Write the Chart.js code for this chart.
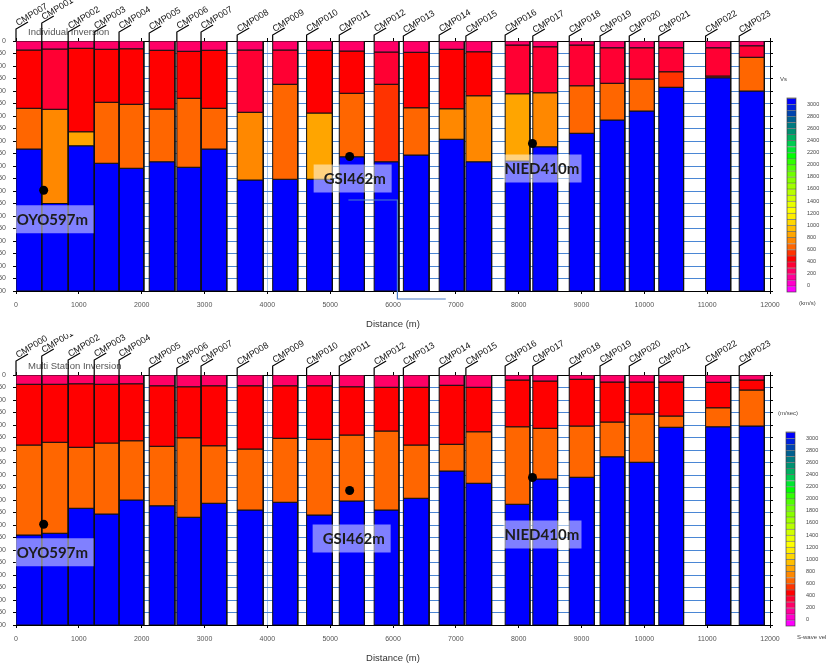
<!DOCTYPE html>
<html>
<head>
<meta charset="utf-8">
<script src="https://cdn.jsdelivr.net/npm/chart.js@4/dist/chart.umd.min.js"></script>
<style>
  body { margin: 0; background: #fff; width: 827px; height: 668px; overflow: hidden; position: relative; }
  .panel { position: absolute; left: 0; width: 827px; height: 334px; overflow: hidden; }
  .panel canvas { position: absolute; top: 0; }
</style>
</head>
<body>
<div class="panel" style="top:0">
  <canvas id="mainTop" width="857" height="334" style="left:-30px"></canvas>
  <canvas id="barTop" width="52" height="334" style="left:775px"></canvas>
</div>
<div class="panel" style="top:334px">
  <canvas id="mainBottom" width="857" height="334" style="left:-30px"></canvas>
  <canvas id="barBottom" width="52" height="334" style="left:774px"></canvas>
</div>
<script>
// station columns along the line (distance, m)
const colStart = [0, 410, 830, 1245, 1640, 2120, 2560, 2945, 3520, 4085, 4625, 5145, 5700, 6165, 6735, 7160, 7785, 8225, 8805, 9295, 9760, 10230, 10975, 11510];
const colEnd   = [410, 830, 1245, 1640, 2035, 2530, 2945, 3355, 3935, 4485, 5035, 5545, 6095, 6575, 7135, 7570, 8180, 8620, 9205, 9690, 10160, 10625, 11375, 11910];

const namesIndividual = ['CMP007', 'CMP001', 'CMP002', 'CMP003', 'CMP004', 'CMP005', 'CMP006', 'CMP007', 'CMP008', 'CMP009', 'CMP010', 'CMP011',
  'CMP012', 'CMP013', 'CMP014', 'CMP015', 'CMP016', 'CMP017', 'CMP018', 'CMP019', 'CMP020', 'CMP021', 'CMP022', 'CMP023'];
const namesMulti = ['CMP000', 'CMP001', 'CMP002', 'CMP003', 'CMP004', 'CMP005', 'CMP006', 'CMP007', 'CMP008', 'CMP009', 'CMP010', 'CMP011',
  'CMP012', 'CMP013', 'CMP014', 'CMP015', 'CMP016', 'CMP017', 'CMP018', 'CMP019', 'CMP020', 'CMP021', 'CMP022', 'CMP023'];

// layer boundaries (depth, m) and S-wave velocity of each layer (m/s)
const depthIndividual = [
  [0, 36, 269, 432, 1000], [0, 32, 273, 650, 1000], [0, 29, 363, 419, 1000], [0, 33, 245, 489, 1000],
  [0, 31, 253, 509, 1000], [0, 37, 272, 483, 1000], [0, 41, 229, 505, 1000], [0, 37, 269, 432, 1000],
  [0, 36, 285, 556, 1000], [0, 36, 173, 553, 1000], [0, 37, 288, 553, 1000], [0, 40, 209, 463, 1000],
  [0, 44, 173, 483, 1000], [0, 45, 267, 456, 1000], [0, 33, 271, 393, 1000], [0, 43, 219, 483, 1000],
  [0, 16, 211, 480, 1000], [0, 23, 207, 423, 1000], [0, 16, 179, 369, 1000], [0, 27, 169, 316, 1000],
  [0, 27, 152, 280, 1000], [0, 27, 123, 185, 1000], [0, 27, 140, 147, 1000], [0, 19, 65, 200, 1000]
];
const vsIndividual = [
  [200, 400, 600, 3000], [200, 300, 700, 3000], [200, 400, 800, 3000], [200, 400, 600, 3000],
  [200, 400, 600, 3000], [200, 400, 600, 3000], [200, 400, 600, 3000], [200, 400, 600, 3000],
  [200, 300, 700, 3000], [200, 300, 600, 3000], [200, 400, 800, 3000], [200, 400, 600, 3000],
  [200, 300, 500, 3000], [200, 400, 600, 3000], [200, 400, 700, 3000], [200, 400, 700, 3000],
  [200, 300, 800, 3000], [200, 300, 700, 3000], [200, 300, 600, 3000], [200, 300, 600, 3000],
  [200, 300, 600, 3000], [200, 300, 500, 3000], [200, 300, 500, 3000], [200, 300, 600, 3000]
];
const depthMulti = [
  [0, 37, 280, 640, 1000], [0, 37, 269, 633, 1000], [0, 35, 289, 533, 1000], [0, 37, 272, 556, 1000],
  [0, 35, 263, 500, 1000], [0, 43, 285, 523, 1000], [0, 47, 251, 569, 1000], [0, 43, 283, 513, 1000],
  [0, 43, 296, 540, 1000], [0, 43, 253, 509, 1000], [0, 43, 257, 560, 1000], [0, 47, 240, 504, 1000],
  [0, 49, 224, 540, 1000], [0, 49, 280, 493, 1000], [0, 41, 277, 384, 1000], [0, 49, 227, 433, 1000],
  [0, 20, 207, 517, 1000], [0, 24, 213, 416, 1000], [0, 17, 204, 409, 1000], [0, 28, 188, 327, 1000],
  [0, 28, 156, 349, 1000], [0, 28, 164, 209, 1000], [0, 29, 131, 207, 1000], [0, 20, 60, 204, 1000]
];
const vsMulti = depthMulti.map(() => [200, 400, 600, 3000]);

// reference boreholes
const stationNames = ['OYO', 'GSI', 'NIED'];
const stationX = [440, 5310, 8220];
const stationDepth = [597, 462, 410];

// leftover connector line in the upper section
const guideX = [5290, 6070, 6070, 6840];
const guideDepth = [636, 636, 1032, 1032];

const distTicks = [0, 1000, 2000, 3000, 4000, 5000, 6000, 7000, 8000, 9000, 10000, 11000, 12000];
const depthTicks = [0, 50, 100, 150, 200, 250, 300, 350, 400, 450, 500, 550, 600, 650, 700, 750, 800, 850, 900, 950, 1000];
const cbTicks = [0, 200, 400, 600, 800, 1000, 1200, 1400, 1600, 1800, 2000, 2200, 2400, 2600, 2800, 3000];

// colour scale, one entry per 100 m/s bin starting at -100
const cbColors = ['#ff00ff', '#ff00cc', '#ff0099', '#ff0066', '#ff0033', '#ff0000', '#ff3300', '#ff6600',
  '#ff8800', '#ffa500', '#ffbf00', '#ffd700', '#ffee00', '#ffff00', '#e8ff00', '#d0ff00',
  '#b8ff00', '#a0ff00', '#88ff00', '#70ff00', '#50ff00', '#30ff00', '#00ff00', '#00e830',
  '#00cc50', '#00b060', '#009070', '#007a80', '#006090', '#0044b0', '#0022dd', '#0000ff'];

Chart.defaults.font.family = '"Liberation Sans", Arial, sans-serif';

const vsColor = v => cbColors[Math.min(cbColors.length - 1, Math.floor((v + 100) / 100))];
const rect = (x0, x1, d0, d1) => [{x: x0, y: d0}, {x: x1, y: d0}, {x: x1, y: d1}, {x: x0, y: d1}, {x: x0, y: d0}];

const panelDecor = {
  id: 'panelDecor',
  afterDatasetsDraw(chart, args, o) {
    const {ctx, scales: {x, y}} = chart;
    ctx.save();
    stationNames.forEach((s, i) => {
      const px = x.getPixelForValue(stationX[i]);
      const py = y.getPixelForValue(stationDepth[i]);
      const [dx, dy, tx] = o.boxes[i];
      ctx.fillStyle = 'rgba(255,255,255,0.5)';
      ctx.fillRect(px + dx, py + dy, 78, 28);
      ctx.fillStyle = '#1c1c1c';
      ctx.font = '700 15px Lato, "Liberation Sans", sans-serif';
      ctx.textBaseline = 'middle';
      ctx.textAlign = 'left';
      ctx.fillText(s + stationDepth[i] + 'm', px + dx + tx, py + dy + 14.5);
    });
    ctx.restore();
  },
  afterDraw(chart, args, o) {
    const {ctx, chartArea, scales: {x}} = chart;
    ctx.save();
    ctx.fillStyle = '#555';
    ctx.font = '9.5px "Liberation Sans", Arial, sans-serif';
    ctx.textBaseline = 'middle';
    ctx.fillText(o.caption, chartArea.left + 12, chartArea.top - 9);
    ctx.strokeStyle = '#000';
    ctx.lineWidth = 1.2;
    ctx.fillStyle = '#111';
    ctx.font = '9px "Liberation Sans", Arial, sans-serif';
    ctx.textBaseline = 'alphabetic';
    o.names.forEach((n, i) => {
      const px = x.getPixelForValue(colStart[i]);
      const lift = o.lift[i];
      const top = chartArea.top;
      ctx.beginPath();
      ctx.moveTo(px, top);
      ctx.lineTo(px, top - lift);
      ctx.lineTo(px + 12, top - lift - 7);
      ctx.stroke();
      ctx.save();
      ctx.translate(px + 2, top - lift - 3);
      ctx.rotate(-31 * Math.PI / 180);
      ctx.fillText(n, 0, 0);
      ctx.restore();
    });
    ctx.restore();
  }
};

const unitLabels = {
  id: 'unitLabels',
  afterDraw(chart, args, o) {
    const {ctx, chartArea} = chart;
    ctx.save();
    ctx.strokeStyle = 'rgba(60,60,60,0.8)';
    ctx.lineWidth = 0.8;
    ctx.strokeRect(chartArea.left, chartArea.top, chartArea.right - chartArea.left, chartArea.bottom - chartArea.top);
    ctx.fillStyle = '#444';
    ctx.font = '6px "Liberation Sans", Arial, sans-serif';
    ctx.textBaseline = 'middle';
    ctx.fillText(o.upper, chartArea.left + o.upperDx, chartArea.top - 19);
    ctx.fillText(o.lower, chartArea.left + o.lowerDx, chartArea.bottom + 11);
    ctx.restore();
  }
};

function buildPanel(mainId, barId, cfg) {
  const datasets = [{
    order: 0,
    data: stationX.map((x, i) => ({x, y: stationDepth[i]})),
    showLine: false,
    pointRadius: 4.5,
    pointBackgroundColor: '#000',
    pointBorderColor: '#000',
    pointBorderWidth: 0
  }];
  if (cfg.guide) {
    datasets.push({
      order: 1,
      data: guideX.map((x, i) => ({x, y: guideDepth[i]})),
      borderColor: '#4a7cc8',
      borderWidth: 1.2,
      pointRadius: 0,
      fill: false,
      clip: false
    });
  }
  cfg.depth.forEach((b, i) => {
    cfg.vs[i].forEach((v, k) => {
      datasets.push({
        order: 2,
        data: rect(colStart[i], colEnd[i], b[k], b[k + 1]),
        backgroundColor: vsColor(v),
        borderColor: '#111',
        borderWidth: 1,
        fill: 'shape',
        pointRadius: 0
      });
    });
  });

  new Chart(document.getElementById(mainId), {
    type: 'line',
    data: {datasets},
    options: {
      animation: false,
      responsive: false,
      events: [],
      layout: {padding: {top: 37, right: 53, left: 0, bottom: 0}},
      plugins: {
        legend: {display: false},
        tooltip: {enabled: false},
        panelDecor: {caption: cfg.caption, names: cfg.names, lift: cfg.lift, boxes: cfg.boxes}
      },
      scales: {
        x: {
          type: 'linear', min: 0, max: 12000,
          afterBuildTicks: s => { s.ticks = distTicks.map(v => ({value: v})); },
          ticks: {callback: v => String(v), font: {size: 7}, color: '#555', padding: 7, maxRotation: 0, autoSkip: false},
          grid: {color: '#a9c8ee', tickColor: '#000', tickLength: 3},
          border: {color: '#000'},
          title: {display: true, text: 'Distance (m)', font: {size: 9.5}, color: '#333', padding: {top: 0, bottom: 4}},
          afterFit: s => { s.height = 43; }
        },
        x2: {
          type: 'linear', position: 'top', min: 0, max: 12000,
          afterBuildTicks: s => { s.ticks = distTicks.map(v => ({value: v})); },
          ticks: {display: false},
          grid: {drawOnChartArea: false, tickColor: '#000', tickLength: 3},
          border: {color: '#000'},
          afterFit: s => { s.height = 4; }
        },
        y: {
          type: 'linear', reverse: true, min: 0, max: 1000,
          afterBuildTicks: s => { s.ticks = depthTicks.map(v => ({value: v})); },
          ticks: {font: {size: 7}, color: '#555', padding: 7, autoSkip: false},
          grid: {color: '#4a86d4', tickColor: '#000', tickLength: 3},
          border: {color: '#000'},
          afterFit: s => { s.width = 46; }
        },
        y2: {
          type: 'linear', position: 'right', reverse: true, min: 0, max: 1000,
          afterBuildTicks: s => { s.ticks = depthTicks.map(v => ({value: v})); },
          ticks: {display: false},
          grid: {drawOnChartArea: false, tickColor: '#000', tickLength: 3},
          border: {color: '#000'},
          afterFit: s => { s.width = 4; }
        }
      }
    },
    plugins: [panelDecor]
  });

  // velocity colour bar
  new Chart(document.getElementById(barId), {
    type: 'bar',
    data: {
      labels: [''],
      datasets: cbColors.map((c, i) => ({
        data: [[-100 + i * 100, i * 100]],
        backgroundColor: c,
        borderColor: 'rgba(0,0,0,0.45)',
        borderWidth: {top: 1, bottom: 0, left: 0, right: 0},
        borderSkipped: false,
        grouped: false,
        barPercentage: 1,
        categoryPercentage: 1
      }))
    },
    options: {
      animation: false,
      responsive: false,
      events: [],
      layout: {padding: {left: 12, top: 98, bottom: 42, right: 0}},
      plugins: {
        legend: {display: false},
        tooltip: {enabled: false},
        unitLabels: cfg.units
      },
      scales: {
        x: {display: false},
        y: {
          position: 'right', min: -100, max: 3100,
          afterBuildTicks: s => { s.ticks = cbTicks.map(v => ({value: v})); },
          ticks: {font: {size: 5.5}, color: '#444', padding: 3, autoSkip: false, callback: v => String(v)},
          grid: {display: false},
          border: {display: false},
          afterFit: s => { s.width = 31; }
        }
      }
    },
    plugins: [unitLabels]
  });
}

buildPanel('mainTop', 'barTop', {
  caption: 'Individual Inversion',
  names: namesIndividual,
  depth: depthIndividual,
  vs: vsIndividual,
  guide: true,
  lift: [12, 18, 9, 9, 9, 8, 9, 9, 6, 6, 6, 6, 6, 5, 6, 5, 6, 5, 5, 5, 5, 5, 5, 5],
  boxes: [[-28, 15, 1], [-36, 8, 10], [-29, 11, 1]],
  units: {upper: 'Vs', upperDx: -7, lower: '(km/s)', lowerDx: 12}
});

buildPanel('mainBottom', 'barBottom', {
  caption: 'Multi Station Inversion',
  names: namesMulti,
  depth: depthMulti,
  vs: vsMulti,
  guide: false,
  lift: [14, 19, 15, 15, 15, 7, 7, 9, 7, 9, 7, 9, 7, 7, 7, 7, 9, 9, 7, 9, 9, 7, 9, 9],
  boxes: [[-28, 14, 1], [-37, 34, 10], [-29, 43, 1]],
  units: {upper: '(m/sec)', upperDx: -8, lower: 'S-wave velocity', lowerDx: 11}
});
</script>
</body>
</html>
